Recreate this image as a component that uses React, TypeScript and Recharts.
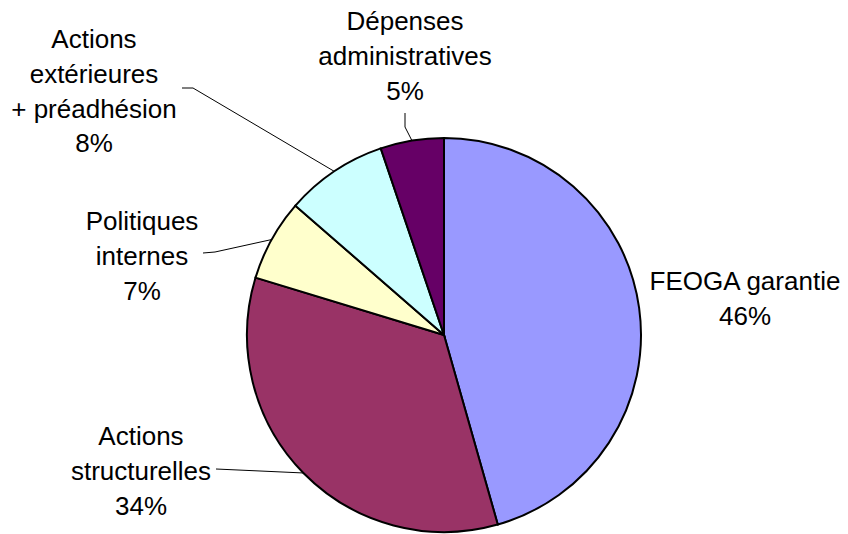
import { PieChart, Pie, Cell } from "recharts";

// shares of the budget, clockwise from 12 o'clock
const categories = [
  "FEOGA garantie",
  "Actions structurelles",
  "Politiques internes",
  "Actions extérieures + préadhésion",
  "Dépenses administratives",
];
const shares = [45.6, 34.1, 6.7, 8.4, 5.2];
const colors = ["#9999FF", "#993366", "#FFFFCC", "#CCFFFF", "#660066"];

// how each label is broken into lines
const labelRows = [
  ["FEOGA garantie"],
  ["Actions", "structurelles"],
  ["Politiques", "internes"],
  ["Actions", "extérieures", "+ préadhésion"],
  ["Dépenses", "administratives"],
];

// label placement, relative to the pie centre (first baseline + leader bends)
const placement = [
  { dx: 301, dy: -45, leader: [] as number[][] },
  { dx: -303, dy: 110, leader: [[-228, 134]] },
  { dx: -302, dy: -105, leader: [[-229, -83], [-241, -82]] },
  { dx: -350, dy: -287, leader: [[-251, -247], [-262, -247]] },
  { dx: -39, dy: -305, leader: [[-39, -208], [-39, -222]] },
];

const data = categories.map((name, i) => ({ name, value: shares[i] }));

const RAD = Math.PI / 180;
const LINE_H = 34.8;

const renderLabel = (props: any) => {
  const { cx, cy, midAngle, outerRadius, percent, index } = props;
  const p = placement[index];
  const sx = cx + outerRadius * Math.cos(-midAngle * RAD);
  const sy = cy + outerRadius * Math.sin(-midAngle * RAD);
  const rows = [...labelRows[index], Math.round(percent * 100) + "%"];
  let d = "";
  if (p.leader.length) {
    d = `M${sx},${sy}` + p.leader.map((pt) => ` L${cx + pt[0]},${cy + pt[1]}`).join("");
  }
  return (
    <g>
      {d && <path d={d} stroke="#000" strokeWidth={1} fill="none" />}
      <text
        x={cx + p.dx}
        y={cy + p.dy}
        textAnchor="middle"
        fontFamily="'Liberation Sans', Arial, sans-serif"
        fontSize={26}
        fill="#000"
      >
        {rows.map((r, i) => (
          <tspan key={i} x={cx + p.dx} y={cy + p.dy + i * LINE_H}>
            {r}
          </tspan>
        ))}
      </text>
    </g>
  );
};

export default function App() {
  return (
    <div style={{ position: "absolute", left: 0, top: 0, background: "#fff" }}>
      <PieChart width={848} height={534} margin={{ top: 0, right: 0, bottom: 0, left: 0 }}>
        <Pie
          data={data}
          dataKey="value"
          nameKey="name"
          cx={444}
          cy={335}
          outerRadius={197}
          startAngle={90}
          endAngle={-270}
          stroke="#000"
          strokeWidth={2}
          label={renderLabel}
          labelLine={false}
          isAnimationActive={false}
        >
          {data.map((d, i) => (
            <Cell key={d.name} fill={colors[i]} />
          ))}
        </Pie>
      </PieChart>
    </div>
  );
}
